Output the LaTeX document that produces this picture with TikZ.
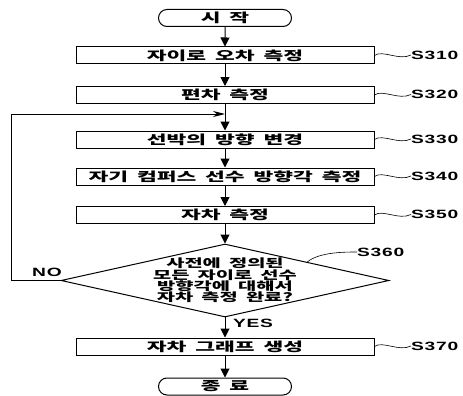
\documentclass[tikz,border=0pt]{standalone}
\usepackage{fontspec}
\usepackage{graphicx}
\usetikzlibrary{arrows.meta,shapes.geometric,shapes.misc}
\newfontfamily\kr{Noto Sans CJK KR}[FakeStretch=1.72,LetterSpace=0,WordSpace=1.8]
\newfontfamily\lat{Liberation Sans}[FakeStretch=1.6,LetterSpace=6]
\begin{document}
\begin{tikzpicture}[x=1pt,y=-1pt,
  stepbox/.style={draw, line width=1pt, minimum width=298pt, minimum height=17pt, inner sep=0pt,
    font=\kr\bfseries\fontsize{12.5}{13}\selectfont},
  term/.style={draw, line width=1pt, rounded rectangle, minimum width=133pt, minimum height=17pt, inner sep=0pt,
    font=\kr\bfseries\fontsize{12.5}{13}\selectfont},
  decision/.style={draw, diamond, line width=1pt, minimum width=328pt, minimum height=73pt, inner sep=0pt},
  dtext/.style={align=center, inner sep=0pt, font=\kr\bfseries\fontsize{11.5}{11.4}\selectfont},
  flow/.style={line width=1pt, -{Triangle[length=9pt,width=9pt]}},
  loopflow/.style={line width=1pt, -{Stealth[length=12pt,width=6pt]}},
  lab/.style={anchor=west, inner sep=0pt, font=\lat\bfseries\fontsize{12}{13}\selectfont},
  lead/.style={line width=0.6pt}
]
\useasboundingbox (0,0) rectangle (463,396);
\fill[white] (0,0) rectangle (463,396);

\node[term] (start) at (225,18) {시 작};
\node[stepbox] (s310) at (225,55.5) {자이로 오차 측정};
\node[stepbox] (s320) at (225,95) {편차 측정};
\node[stepbox] (s330) at (225,139.5) {선박의 방향 변경};
\node[stepbox] (s340) at (225,176.5) {자기 컴퍼스 선수 방향각 측정};
\node[stepbox] (s350) at (225,215) {자차 측정};
\node[decision] (s360) at (225,280.5) {};
\node[dtext] (q) at (s360.center) {사전에 정의된\\모든 자이로 선수\\방향각에 대해서\\자차 측정 완료?};
\node[stepbox] (s370) at (225,346.5) {자차 그래프 생성};
\node[term] (end) at (225,386.5) {종 료};

\coordinate (join) at (225,114);

\draw[flow] (start) -- (s310);
\draw[flow] (s310) -- (s320);
\draw[flow] (s320) -- (s330);
\draw[flow] (s330) -- (s340);
\draw[flow] (s340) -- (s350);
\draw[flow] (s350) -- (s360);
\draw[flow] (s360) -- (s370);
\draw[flow] (s370) -- (end);
\draw[loopflow] (s360.west) -- ++(-49,0) |- (join);

\node[lab, anchor=center] (no) at (47,272) {NO};
\node[lab] (yes) at (233,323) {YES};

\node[lab] (l310) at (411,55) {S310};
\node[lab] (l320) at (411,94.5) {S320};
\node[lab] (l330) at (411,139) {S330};
\node[lab] (l340) at (411,176) {S340};
\node[lab] (l350) at (411,214.5) {S350};
\node[lab] (l360) at (357,252) {S360};
\node[lab] (l370) at (411,346) {S370};

\foreach \s in {310,320,330,340,350,370}
  \draw[lead] (s\s.east) .. controls +(8,-6) and +(-12,6) .. (l\s.west);
\draw[lead] (s360.north east) .. controls +(12,-10) and +(-12,0) .. (l360.west);
\end{tikzpicture}
\end{document}
